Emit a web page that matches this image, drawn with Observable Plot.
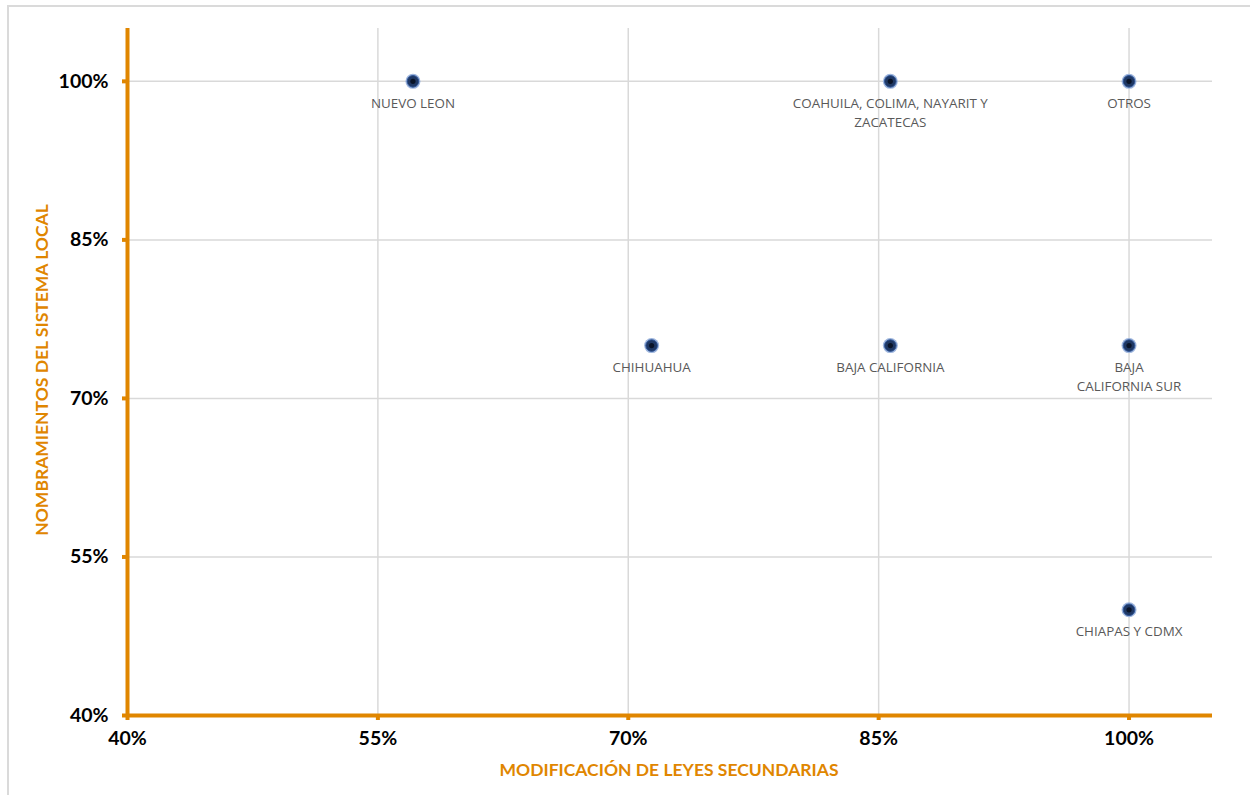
<!DOCTYPE html>
<html>
<head>
<meta charset="utf-8">
<script src="https://cdn.jsdelivr.net/npm/d3@7"></script>
<script src="https://cdn.jsdelivr.net/npm/@observablehq/plot@0.6"></script>
<style>
  html, body { margin: 0; padding: 0; background: #fff; }
  #frame { position: absolute; left: 7px; top: 5px; width: 1260px; height: 810px; border: 2px solid #dadada; box-sizing: border-box; }
  #chart { position: absolute; left: 0; top: 0; }
</style>
</head>
<body>
<div id="frame"></div>
<div id="chart"></div>
<script>
// Entidades: % de modificación de leyes secundarias (x) y % de nombramientos del sistema local (y)
const estados = ["NUEVO LEON", "COAHUILA, COLIMA, NAYARIT Y\nZACATECAS", "OTROS", "CHIHUAHUA", "BAJA CALIFORNIA", "BAJA\nCALIFORNIA SUR", "CHIAPAS Y CDMX"];
const leyesSecundarias = [57.1, 85.7, 100, 71.4, 85.7, 100, 100];
const nombramientos = [100, 100, 100, 75, 75, 75, 50];
const ticks = [40, 55, 70, 85, 100];

const data = estados.map((nombre, i) => ({nombre, x: leyesSecundarias[i], y: nombramientos[i]}));

const orange = "#e08600";
const pct = d => d + "%";

const chart = Plot.plot({
  width: 1250,
  height: 795,
  marginLeft: 127,
  marginRight: 38,
  marginTop: 28,
  marginBottom: 80,
  style: {background: "transparent", fontFamily: "Lato, sans-serif"},
  x: {domain: [40, 105], ticks, label: null},
  y: {domain: [40, 105], ticks, label: null},
  marks: [
    Plot.gridX(ticks, {stroke: "#d9d9d9", strokeOpacity: 1, strokeWidth: 1.5}),
    Plot.gridY(ticks, {stroke: "#d9d9d9", strokeOpacity: 1, strokeWidth: 1.5}),
    Plot.axisX(ticks, {tickSize: 5, stroke: orange, strokeWidth: 4, fill: "#000", tickFormat: pct,
      tickPadding: 11, fontSize: 19.5, fontWeight: "bold", label: null}),
    Plot.axisY(ticks, {tickSize: 5, stroke: orange, strokeWidth: 4, fill: "#000", tickFormat: pct,
      tickPadding: 14, fontSize: 19.5, fontWeight: "bold", label: null}),
    Plot.ruleX([40], {stroke: orange, strokeWidth: 4, y1: 40, y2: 105}),
    Plot.ruleY([40], {stroke: orange, strokeWidth: 4, x1: 40, x2: 105}),
    Plot.dot(data, {x: "x", y: "y", r: 7.5, fill: "#9db5dd", stroke: "none"}),
    Plot.dot(data, {x: "x", y: "y", r: 5.8, fill: "#1f3864", stroke: "#2f5597", strokeWidth: 1}),
    Plot.dot(data, {x: "x", y: "y", r: 2.6, fill: "#0a1428", stroke: "none"}),
    Plot.text(data, {x: "x", y: "y", text: "nombre", dy: 13, lineAnchor: "top", lineHeight: 1.42,
      fontSize: 13.4, fill: "#595959", fontFamily: "'Open Sans', sans-serif"})
  ]
});

// Títulos de ejes
const svg = d3.select(chart);
svg.append("text")
  .attr("x", 669).attr("y", 776)
  .attr("text-anchor", "middle")
  .attr("fill", orange)
  .attr("font-family", "Lato, sans-serif")
  .attr("font-weight", "bold")
  .attr("font-size", 17.5)
  .text("MODIFICACIÓN DE LEYES SECUNDARIAS");
svg.append("text")
  .attr("transform", "translate(48,370) rotate(-90)")
  .attr("text-anchor", "middle")
  .attr("fill", orange)
  .attr("font-family", "Lato, sans-serif")
  .attr("font-weight", "bold")
  .attr("font-size", 17.5)
  .text("NOMBRAMIENTOS DEL SISTEMA LOCAL");

document.getElementById("chart").appendChild(chart);
</script>
</body>
</html>
